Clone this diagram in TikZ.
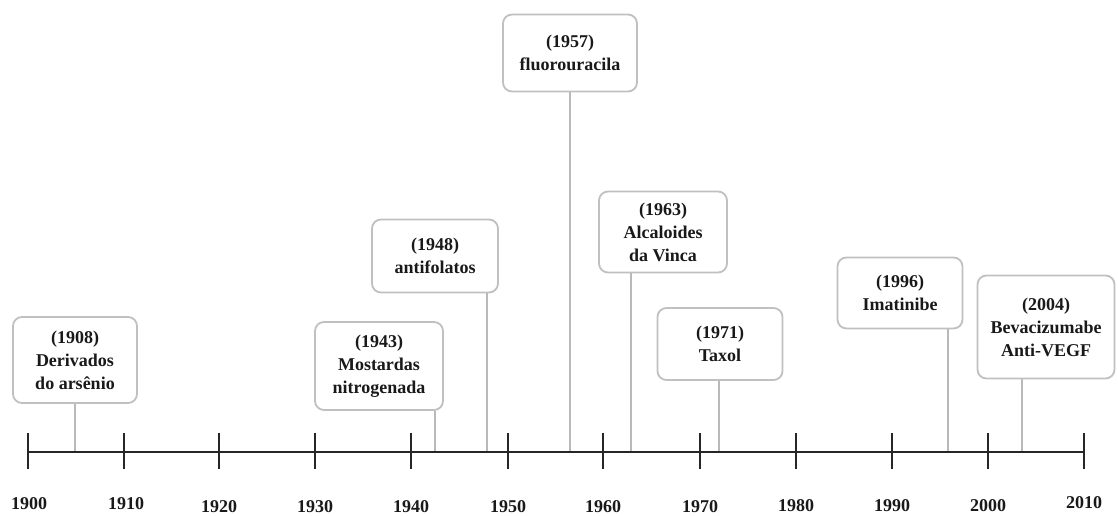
\documentclass[tikz,border=0pt]{standalone}
\usepackage{fontspec}
\setmainfont{Liberation Serif}
\usepackage{xcolor}
\usepackage{tikz}
\definecolor{boxline}{RGB}{192,192,192}
\definecolor{stemline}{RGB}{185,185,185}
\definecolor{inktext}{RGB}{25,25,25}
\tikzset{
  event/.style={draw=boxline, line width=1.8pt, rounded corners=9pt, fill=white,
    align=center, text=inktext, inner sep=2pt,
    font=\fontsize{18}{23}\selectfont\bfseries},
  stem/.style={draw=stemline, line width=1.2pt},
  yearlabel/.style={text=inktext, font=\fontsize{18}{20}\selectfont\bfseries}
}

\begin{document}
\begin{tikzpicture}[x=1pt, y=-1pt]
  \useasboundingbox (0,0) rectangle (1118,516);

  % Events
  \node[event, minimum width=124pt, minimum height=86pt] (b1908) at (75,360)
    {(1908)\\Derivados\\do arsênio};
  \node[event, minimum width=128pt, minimum height=88pt] (b1943) at (379,366)
    {(1943)\\Mostardas\\nitrogenada};
  \node[event, minimum width=126pt, minimum height=73pt] (b1948) at (435,256)
    {(1948)\\antifolatos};
  \node[event, minimum width=134pt, minimum height=77pt] (b1957) at (570,53)
    {(1957)\\fluorouracila};
  \node[event, minimum width=128pt, minimum height=81pt] (b1963) at (663,232)
    {(1963)\\Alcaloides\\da Vinca};
  \node[event, minimum width=125pt, minimum height=72pt] (b1971) at (720,344)
    {(1971)\\Taxol};
  \node[event, minimum width=125pt, minimum height=71pt] (b1996) at (900,293)
    {(1996)\\Imatinibe};
  \node[event, minimum width=137pt, minimum height=103pt] (b2004) at (1046,327)
    {(2004)\\Bevacizumabe\\Anti-VEGF};

  % Points on the axis
  \coordinate (y1908) at (75,452);
  \coordinate (y1943) at (435,452);
  \coordinate (y1948) at (487,452);
  \coordinate (y1957) at (570,452);
  \coordinate (y1963) at (631,452);
  \coordinate (y1971) at (719,452);
  \coordinate (y1996) at (948,452);
  \coordinate (y2004) at (1022,452);

  % Stems
  \draw[stem] (b1908.south -| y1908) -- (y1908);
  \draw[stem] (b1943.south -| y1943) -- (y1943);
  \draw[stem] (b1948.south -| y1948) -- (y1948);
  \draw[stem] (b1957.south -| y1957) -- (y1957);
  \draw[stem] (b1963.south -| y1963) -- (y1963);
  \draw[stem] (b1971.south -| y1971) -- (y1971);
  \draw[stem] (b1996.south -| y1996) -- (y1996);
  \draw[stem] (b2004.south -| y2004) -- (y2004);

  % Axis
  \draw[line width=2.8pt, black!85] (28,452) -- (1084,452);

  % Ticks
  \draw[line width=2.8pt, black!85] (28,433) -- (28,469);
  \draw[line width=2.8pt, black!85] (124,433) -- (124,469);
  \draw[line width=2.8pt, black!85] (219,433) -- (219,469);
  \draw[line width=2.8pt, black!85] (315,433) -- (315,469);
  \draw[line width=2.8pt, black!85] (411,433) -- (411,469);
  \draw[line width=2.8pt, black!85] (508,433) -- (508,469);
  \draw[line width=2.8pt, black!85] (603,433) -- (603,469);
  \draw[line width=2.8pt, black!85] (700,433) -- (700,469);
  \draw[line width=2.8pt, black!85] (796,433) -- (796,469);
  \draw[line width=2.8pt, black!85] (892,433) -- (892,469);
  \draw[line width=2.8pt, black!85] (988,433) -- (988,469);
  \draw[line width=2.8pt, black!85] (1084,433) -- (1084,469);

  % Years
  \node[yearlabel] (l1900) at (29,504) {1900};
  \node[yearlabel] (l1910) at (126,504) {1910};
  \node[yearlabel] (l1920) at (219,507) {1920};
  \node[yearlabel] (l1930) at (315,507) {1930};
  \node[yearlabel] (l1940) at (411,507) {1940};
  \node[yearlabel] (l1950) at (508,507) {1950};
  \node[yearlabel] (l1960) at (603,507) {1960};
  \node[yearlabel] (l1970) at (700,507) {1970};
  \node[yearlabel] (l1980) at (796,506) {1980};
  \node[yearlabel] (l1990) at (892,506) {1990};
  \node[yearlabel] (l2000) at (988,506) {2000};
  \node[yearlabel] (l2010) at (1084,503) {2010};
\end{tikzpicture}
\end{document}
